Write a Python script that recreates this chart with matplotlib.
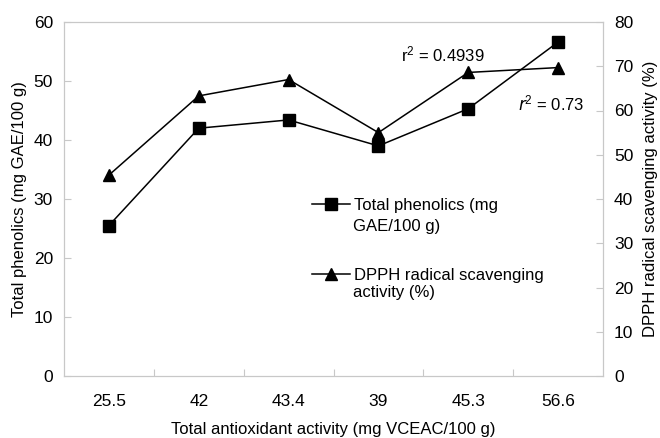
import matplotlib.pyplot as plt
from matplotlib.lines import Line2D

plt.rcParams['font.family'] = ['Liberation Sans', 'DejaVu Sans']

# Data
categories = ['25.5', '42', '43.4', '39', '45.3', '56.6']
phenolics = [25.5, 42.0, 43.4, 39.0, 45.3, 56.6]
dpph = [45.4, 63.3, 67.0, 55.0, 68.6, 69.7]

x = list(range(len(categories)))
grey = '#c8c8c8'
fs = 12

fig = plt.figure(figsize=(6.6, 4.38), dpi=100)
ax = fig.add_axes([64 / 660, 62 / 438, 539 / 660, 354 / 438])
ax2 = ax.twinx()

ax.plot(x, phenolics, color='black', lw=1.1, marker='s', ms=8.5)
ax2.plot(x, dpph, color='black', lw=1.1, marker='^', ms=8.5)

ax.set_xlim(-0.5, len(categories) - 0.5)
ax.set_ylim(0, 60)
ax2.set_ylim(0, 80)
ax.set_yticks(range(0, 61, 10))
ax2.set_yticks(range(0, 81, 10))

# category ticks at boundaries, labels centred
ax.set_xticks([i + 0.5 for i in x[:-1]])
ax.set_xticklabels([])
ax.set_xticks(x, minor=True)
ax.set_xticklabels(categories, minor=True)
ax.tick_params(axis='x', which='minor', length=0, pad=13, labelsize=12.5)
ax.tick_params(axis='x', which='major', direction='in', length=5, color=grey)
ax.tick_params(axis='y', direction='in', length=5, color=grey, labelsize=12.5, pad=8)
ax2.tick_params(axis='y', direction='in', length=5, color=grey, labelsize=12.5, pad=8)

for a in (ax, ax2):
    for s in a.spines.values():
        s.set_color(grey)

ax.set_xlabel('Total antioxidant activity (mg VCEAC/100 g)', fontsize=fs, labelpad=9)
ax.set_ylabel('Total phenolics (mg GAE/100 g)', fontsize=fs, labelpad=5)
ax2.set_ylabel('DPPH radical scavenging activity (%)', fontsize=fs, labelpad=7)

ax.text(3.25, 53.3, '$\\mathregular{r^2}$ = 0.4939', fontsize=fs)
ax.text(4.55, 45.0, '$r$$\\mathregular{^2}$ = 0.73', fontsize=fs)

handles = [Line2D([], [], color='black', lw=1.1, marker='s', ms=8.5),
           Line2D([], [], color='black', lw=1.1, marker='^', ms=8.5)]
labels = ['Total phenolics (mg', 'DPPH radical scavenging']
leg = ax.legend(handles, labels, loc='upper left',
                bbox_to_anchor=(312 / 660, 1 - 198 / 438),
                bbox_transform=fig.transFigure, frameon=False, fontsize=fs,
                handlelength=2.3, labelspacing=3.3, handletextpad=0.2,
                borderpad=0, borderaxespad=0)

# second lines of the legend labels
fig.text(353 / 660, 1 - 226 / 438, 'GAE/100 g)', fontsize=fs, va='center')
fig.text(353 / 660, 1 - 293 / 438, 'activity (%)', fontsize=fs, va='center')

fig.savefig('out.png', dpi=100)
